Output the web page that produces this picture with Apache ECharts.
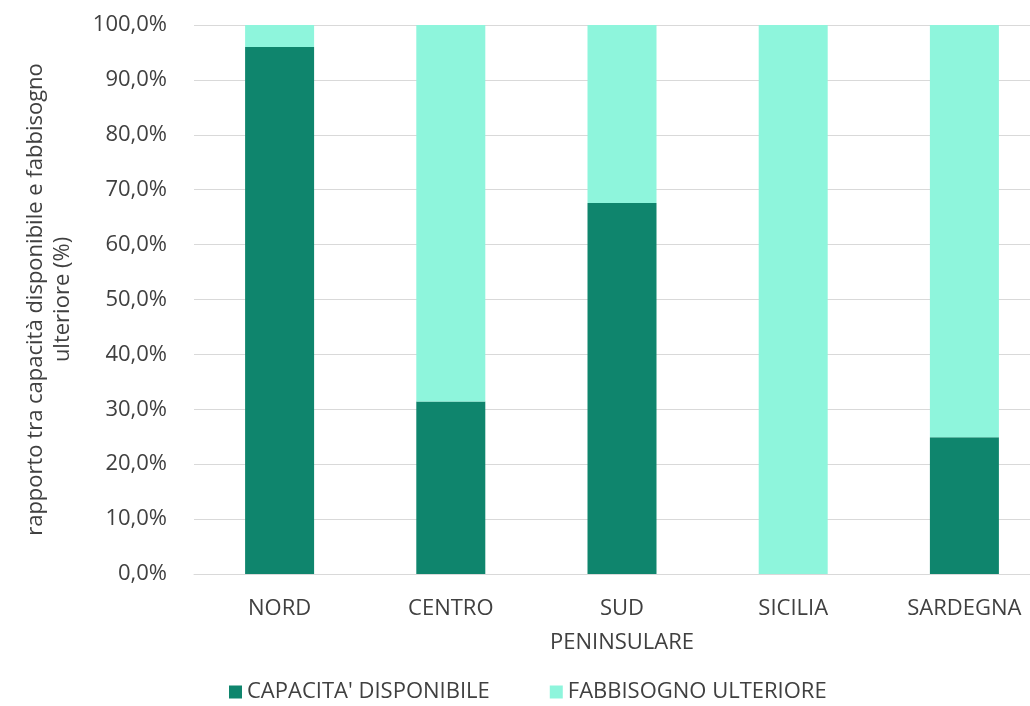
<!DOCTYPE html>
<html><head><meta charset="utf-8">
<script src="https://cdn.jsdelivr.net/npm/echarts@6/dist/echarts.min.js"></script>
<style>html,body{margin:0;padding:0;background:#fff}#c{width:1030px;height:706px}</style>
</head><body><div id="c"></div>
<script>
const categories = ['NORD', 'CENTRO', 'SUD\nPENINSULARE', 'SICILIA', 'SARDEGNA'];
const capacita = [96.0, 31.4, 67.6, 0, 24.9];
const fabbisogno = [4.0, 68.6, 32.4, 100, 75.1];
const seriesNames = ["CAPACITA' DISPONIBILE", 'FABBISOGNO ULTERIORE'];
const yAxisTitle = 'rapporto tra capacità disponibile e fabbisogno\nulteriore (%)';
const font = 'Open Sans';
const chart = echarts.init(document.getElementById('c'));
chart.setOption({
  animation: false,
  textStyle: {fontFamily: font},
  grid: {left: 194, width: 856, top: 25, bottom: 132, containLabel: false, outerBoundsMode: 'none'},
  legend: {
    bottom: -2, left: 224, itemWidth: 13, itemHeight: 13, itemGap: 60,
    icon: 'rect',
    textStyle: {fontFamily: font, fontSize: 22, color: '#404040'},
    data: seriesNames
  },
  xAxis: {
    type: 'category', data: categories,
    axisLine: {lineStyle: {color: '#d9d9d9', width: 1}},
    axisTick: {show: false},
    axisLabel: {fontFamily: font, fontSize: 22, color: '#404040', margin: 18, lineHeight: 34, interval: 0}
  },
  yAxis: {
    type: 'value', min: 0, max: 100, interval: 10,
    name: yAxisTitle, nameLocation: 'middle', nameGap: 118, nameRotate: 90,
    nameTextStyle: {fontFamily: font, fontSize: 22, color: '#404040', lineHeight: 27, align: 'center'},
    axisLine: {show: false}, axisTick: {show: false},
    splitLine: {lineStyle: {color: '#d9d9d9', width: 1}},
    axisLabel: {fontFamily: font, fontSize: 22, color: '#404040', margin: 27,
      formatter: v => v.toFixed(1).replace('.', ',') + '%'}
  },
  series: [
    {name: seriesNames[0], type: 'bar', stack: 's', data: capacita, barWidth: 69, itemStyle: {color: '#0F856D'}},
    {name: seriesNames[1], type: 'bar', stack: 's', data: fabbisogno, barWidth: 69, itemStyle: {color: '#8EF5DC'}}
  ]
});
</script></body></html>
